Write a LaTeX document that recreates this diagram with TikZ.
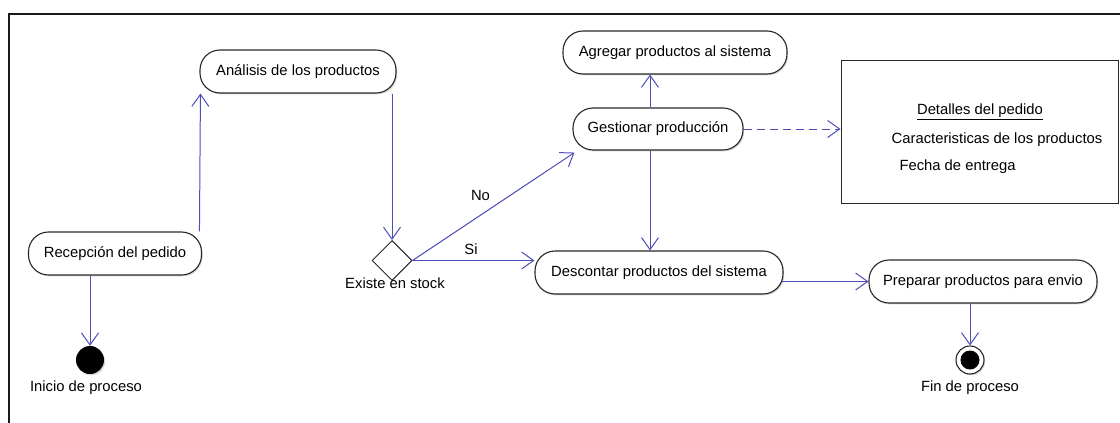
\documentclass[tikz,border=0pt]{standalone}
\usepackage{fontspec}
\setmainfont{Liberation Sans}
\usetikzlibrary{arrows.meta,shapes.geometric,shadows}
\definecolor{flow}{RGB}{78,78,184}
\definecolor{outline}{RGB}{40,40,40}
\tikzset{
  x=1pt, y=-1pt,
  every node/.style={font=\fontsize{14.8}{17}\selectfont, text=black},
  activity/.style={draw=outline, line width=1.1pt, rounded corners=20pt, fill=white,
    minimum height=43pt, inner sep=0pt,
    drop shadow={opacity=0.3, shadow xshift=1.2pt, shadow yshift=-1.4pt}},
  flowarrow/.style={draw=flow, line width=1pt, -{Straight Barb[length=12pt,width=17pt,line width=1pt]}},
  plain/.style={inner sep=0pt}
}
\begin{document}
\begin{tikzpicture}
\useasboundingbox (0,0) rectangle (1120,423);
\fill[white] (0,0) rectangle (1120,423);
% frame of the diagram
\draw[line width=2pt, black!90] (9,424) -- (9,14) -- (1121,14);

% activities
\node[activity, minimum width=196pt] (ana) at (298,71.5) {Análisis de los productos};
\node[activity, minimum width=173pt] (rec) at (115,253.5) {Recepción del pedido};
\node[activity, minimum width=224pt] (agr) at (675,52.5) {Agregar productos al sistema};
\node[activity, minimum width=170pt, minimum height=42pt] (ges) at (658,129) {Gestionar producción};
\node[activity, minimum width=248pt] (des) at (659,272.5) {Descontar productos del sistema};
\node[activity, minimum width=228pt] (pre) at (983,281.5) {Preparar productos para envio};

% decision
\node[diamond, draw=outline, line width=1pt, fill=white, aspect=1, minimum width=40pt,
      minimum height=40pt, inner sep=0pt] (dia) at (392,260.5) {};
\node[plain] (dialbl) at (395,283) {Existe en stock};

% start and end states
\node[circle, fill=black, minimum size=28pt, inner sep=0pt,
      drop shadow={opacity=0.3, shadow xshift=1.2pt, shadow yshift=-1.4pt}] (ini) at (90,360) {};
\node[plain] (inilbl) at (86,387.5) {Inicio de proceso};
\node[circle, draw=outline, line width=1.1pt, fill=white, minimum size=28pt, inner sep=0pt,
      drop shadow={opacity=0.3, shadow xshift=1.2pt, shadow yshift=-1.4pt}] (fin) at (970,360) {};
\node[circle, fill=black, minimum size=19pt, inner sep=0pt] (fincore) at (fin) {};
\node[plain] (finlbl) at (970,388) {Fin de proceso};

% order details
\node[draw=outline, line width=1pt, fill=white, minimum width=277pt, minimum height=143pt,
      drop shadow={opacity=0.3, shadow xshift=1.2pt, shadow yshift=-1.4pt}] (det) at (979.5,131.5) {};
\node[plain] (dett) at (980,112) {\underline{Detalles del pedido}};
\node[plain] (detc) at (997,139.5) {Caracteristicas de los productos};
\node[plain] (detf) at (957.5,167) {Fecha de entrega};

% control flow
\draw[flowarrow] (rec.north -| ana.west) -- ([xshift=1pt]ana.south west);
\draw[flowarrow] (ana.south -| dia.north) -- (dia.north);
\draw[flowarrow] (rec.south -| ini.north) -- (ini.north);
\draw[flowarrow] (dia.east) -- node[plain, pos=0.42, above=14pt] (nolbl) {No} ([shift={(2pt,-2pt)}]ges.south west);
\draw[flowarrow] (dia.east) -- node[plain, pos=0.48, above=5pt] (silbl) {Si} (dia.east -| des.west);
\draw[flowarrow] ([xshift=-8pt]ges.north) -- ([xshift=-8pt]ges.north |- agr.south);
\draw[flowarrow] ([xshift=-8pt]ges.south) -- ([xshift=-8pt]ges.south |- des.north);
\draw[flowarrow] ([xshift=-2pt]pre.west -| des.east) -- (pre.west);
\draw[flowarrow] (pre.south -| fin.north) -- (fin.north);
\draw[flowarrow, dash pattern=on 8pt off 5pt] (ges.east) -- (ges.east -| det.west);
\end{tikzpicture}
\end{document}
